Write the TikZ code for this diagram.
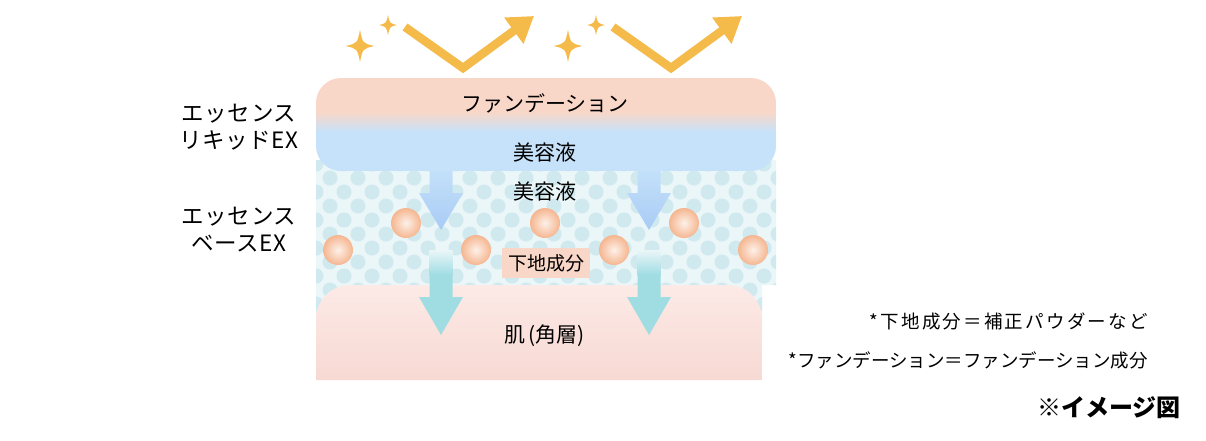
\documentclass[tikz,border=0pt]{standalone}
\usepackage{fontspec}
\setmainfont{Noto Sans CJK JP}
\usepackage{tikz}
\usetikzlibrary{arrows.meta}
\definecolor{rosa}{HTML}{F9D7C8}
\definecolor{celeste}{HTML}{C6E2FA}
\definecolor{fondo}{HTML}{EAF6F8}
\definecolor{punto}{HTML}{D0E9EF}
\definecolor{piel}{HTML}{F8D9D3}
\definecolor{pielclara}{HTML}{FCEAE6}
\definecolor{azul}{HTML}{A9CCF5}
\definecolor{turquesa}{HTML}{9FDDE3}
\definecolor{amarillo}{HTML}{F5BB4A}
\definecolor{naranja}{HTML}{F5B690}
\tikzstyle{etiqueta} = [inner sep=0pt,font=\fontsize{21}{25}\selectfont]
\tikzstyle{lateral} = [inner sep=0pt,align=center,font=\fontsize{22.5}{27}\selectfont\addfontfeature{LetterSpace=3}]
\tikzstyle{nota} = [inner sep=0pt,anchor=east,font=\fontsize{18.5}{22}\selectfont]
\tikzstyle{bolita} = [circle,minimum size=30pt,inner sep=0pt,inner color=white!80!naranja,outer color=naranja]
\tikzstyle{rebote} = [line width=8.5pt,amarillo,miter limit=20,-{Triangle[length=25pt,width=31pt]}]
\newcommand{\destello}[3]{%
	\fill[amarillo] (#1,{#2-#3}) .. controls ({#1+0.17*#3},{#2-0.17*#3}) .. ({#1+0.9*#3},#2)
	.. controls ({#1+0.17*#3},{#2+0.17*#3}) .. (#1,{#2+#3})
	.. controls ({#1-0.17*#3},{#2+0.17*#3}) .. ({#1-0.9*#3},#2)
	.. controls ({#1-0.17*#3},{#2-0.17*#3}) .. cycle;}

\begin{document}
\begin{tikzpicture}[x=1pt,y=-1pt]
	\useasboundingbox (0,0) rectangle (1206,440);
	% capa de la base con puntos
	\fill[fondo] (316,160) -- (776,160) -- (776,285) -- (762,285) -- (762,330) -- (316,330) -- cycle;
	\begin{scope}
		\clip (316,160) -- (776,160) -- (776,285) -- (762,285) -- (762,330) -- (316,330) -- cycle;
		\foreach \Fila [evaluate=\Fila as \Off using {14*mod(\Fila,2)}] in {0,...,12}
		{
			\foreach \Col in {0,...,17}
			{
				\fill[punto] (316+28*\Col+\Off,164+14*\Fila) circle (7.5);
			}
		}
	\end{scope}
	% piel
	\shade[top color=pielclara,bottom color=piel] (316,380) [rounded corners=34pt] -- (316,285) -- (762,285) [sharp corners] -- (762,380) -- cycle;
	% flechas hacia la piel
	\foreach \Xc in {441,649}
	{
		\fill[turquesa] (\Xc-11.5,275) -- (\Xc+11.5,275) -- (\Xc+11.5,297) -- (\Xc+22,297)
			-- (\Xc,335) -- (\Xc-22,297) -- (\Xc-11.5,297) -- cycle;
		\shade[top color=fondo,bottom color=turquesa] (\Xc-11.5,250) rectangle (\Xc+11.5,275);
		\shade[top color=celeste,bottom color=azul] (\Xc-11.5,165) -- (\Xc+11.5,165) -- (\Xc+11.5,193)
			-- (\Xc+22,193) -- (\Xc,230) -- (\Xc-22,193) -- (\Xc-11.5,193) -- cycle;
	}
	% capa de la liquida
	\begin{scope}
		\clip[rounded corners=25pt] (316,78) rectangle (776,171);
		\fill[rosa] (316,78) rectangle (776,112);
		\shade[top color=rosa,bottom color=celeste] (316,112) rectangle (776,132);
		\fill[celeste] (316,132) rectangle (776,171);
	\end{scope}
	\node[etiqueta] (fundacion) at (545,103) {ファンデーション};
	\node[etiqueta] (serum1) at (545,153) {美容液};
	\node[etiqueta] (serum2) at (545,192) {美容液};
	\node[etiqueta,fill=rosa,minimum width=88pt,minimum height=30pt,font=\fontsize{19}{23}\selectfont] (base) at (546,263) {下地成分};
	\node[etiqueta] (piel) at (545,336) {肌\kern3pt(角層)};
	% bolitas
	\foreach \Xc/\Yc in {338/250,406/223,476/250,545/223,614/250,684/223,753/250}
	{
		\node[bolita] (b\Xc) at (\Xc,\Yc) {};
	}
	% rebotes y destellos
	\foreach \Xc in {0,208}
	{
		\draw[rebote] (405+\Xc,27) -- (463+\Xc,68) -- (534+\Xc,16);
		\destello{360+\Xc}{46}{16}
		\destello{388+\Xc}{25}{10}
	}
	% textos laterales
	\node[lateral] (liquida) at (239,127) {エッセンス\\リキッドEX};
	\node[lateral] (baseex) at (239,230) {エッセンス\\ベースEX};
	\node[nota,font=\fontsize{18.5}{22}\selectfont\addfontfeature{LetterSpace=12}] (nota1) at (1148,321) {*下地成分＝補正パウダーなど};
	\node[nota] (nota2) at (1148,360) {*ファンデーション＝ファンデーション成分};
	\node[nota,font=\fontsize{24}{28}\selectfont\bfseries] (imagen) at (1181,408) {※イメージ図};
\end{tikzpicture}
\end{document}
